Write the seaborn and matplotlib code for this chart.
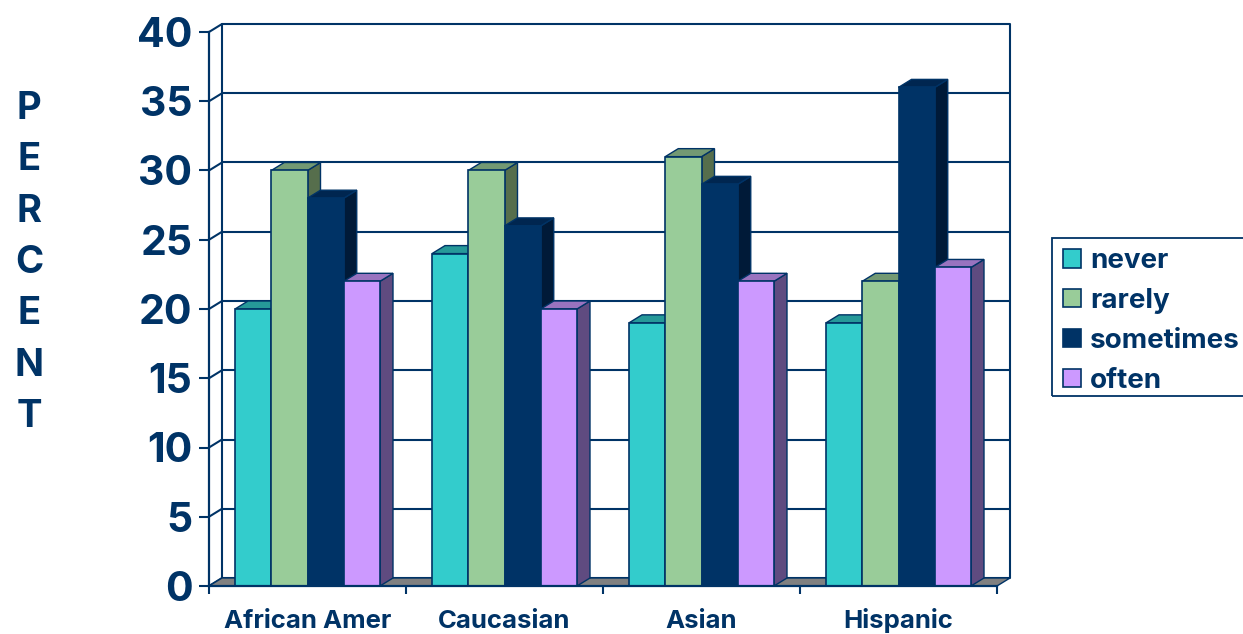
import matplotlib
matplotlib.use("Agg")
import matplotlib.pyplot as plt
from matplotlib.patches import Polygon, Rectangle
import pandas as pd
import seaborn as sns

# Survey responses by group, in percent
groups = ["African Amer", "Caucasian", "Asian", "Hispanic"]
never = [20, 24, 19, 19]
rarely = [30, 30, 31, 22]
sometimes = [28, 26, 29, 36]
often = [22, 20, 22, 23]
answers = ["never", "rarely", "sometimes", "often"]
y_ticks = list(range(0, 45, 5))

NAVY = "#003366"
front = ["#33CCCC", "#99CC99", "#003366", "#CC99FF"]
side = ["#1F7F7F", "#566E4C", "#001A38", "#5F4B80"]
top = ["#269999", "#739973", "#002650", "#9973BF"]

records = []
for name, values in zip(answers, [never, rarely, sometimes, often]):
    for group, value in zip(groups, values):
        records.append({"group": group, "answer": name, "percent": value})
table = pd.DataFrame(records)

sns.set_theme(style="white")
plt.rcParams["font.family"] = ["Inter", "Liberation Sans", "DejaVu Sans"]

W, H = 1243, 634
fig = plt.figure(figsize=(W / 100, H / 100), dpi=100)
ax = fig.add_axes([209 / W, 1 - 586 / H, (997 - 209) / W, (586 - 32) / H])

sns.barplot(data=table, x="group", y="percent", hue="answer", order=groups,
            hue_order=answers, palette=front, width=0.736, gap=0,
            edgecolor=NAVY, linewidth=1.2, saturation=1, ax=ax, legend=True, zorder=5)
ax.set_xlim(-0.5, 3.5)
ax.set_ylim(0, 40)

# The bars seaborn drew, tagged with their answer index before other patches are added
n_bars = len(groups) * len(answers)
bars = [p for p in ax.patches if isinstance(p, Rectangle)][:n_bars]
answer_index = [k for k in range(len(answers)) for _ in groups]

# Oblique depth of the pseudo-3D box, in data units
dx = 13 / 197
dy = 8 / 13.85
edge = dict(edgecolor=NAVY, linewidth=1.0, clip_on=False)

# Floor of the box
ax.add_patch(Polygon([(-0.5, 0), (3.5, 0), (3.5 + dx, dy), (-0.5 + dx, dy)],
                     facecolor="#808080", zorder=1.5, **edge))

# Back wall gridlines, left wall diagonals, right wall edge
for tick in y_ticks:
    ax.plot([-0.5 + dx, 3.5 + dx], [tick + dy, tick + dy], color=NAVY, lw=1.5,
            clip_on=False, zorder=1, solid_capstyle="butt")
    ax.plot([-0.5, -0.5 + dx], [tick, tick + dy], color=NAVY, lw=1.5,
            clip_on=False, zorder=1)
for x_wall in (-0.5 + dx, 3.5 + dx):
    ax.plot([x_wall, x_wall], [dy, 40 + dy], color=NAVY, lw=1.5, clip_on=False, zorder=1)

# Side and top faces of each bar, painted left to right
ordered = sorted(zip(bars, answer_index), key=lambda t: t[0].get_x())
for i, (bar, k) in enumerate(ordered):
    x0, x1 = bar.get_x(), bar.get_x() + bar.get_width()
    h = bar.get_height()
    z = 3 + i * 0.1
    bar.set_zorder(z + 0.05)
    ax.add_patch(Polygon([(x1, 0), (x1 + dx, dy), (x1 + dx, h + dy), (x1, h)],
                         facecolor=side[k], zorder=z, **edge))
    ax.add_patch(Polygon([(x0, h), (x1, h), (x1 + dx, h + dy), (x0 + dx, h + dy)],
                         facecolor=top[k], zorder=z, **edge))

# Axes, ticks and labels
sns.despine(ax=ax, top=True, right=True)
for s in ("left", "bottom"):
    ax.spines[s].set_color(NAVY)
    ax.spines[s].set_linewidth(1.6)
    ax.spines[s].set_zorder(8)
ax.set_xlabel("")
ax.set_ylabel("")
ax.set_yticks(y_ticks)
ax.set_xticks(range(len(groups)))
ax.set_xticklabels(groups, va="baseline")
ax.set_xticks([-0.5, 0.5, 1.5, 2.5, 3.5], minor=True)
ax.tick_params(axis="x", which="major", length=0, pad=30, labelsize=18.5, labelcolor=NAVY)
ax.tick_params(axis="x", which="minor", bottom=True, length=6, width=1.5, color=NAVY)
ax.tick_params(axis="y", left=True, length=7, width=1.5, color=NAVY, pad=5,
               labelsize=29.5, labelcolor=NAVY)
for label in ax.get_xticklabels() + ax.get_yticklabels():
    label.set_fontweight("bold")

fig.text(29 / W, 1 - 263 / H, "\n".join("PERCENT"), ha="center", va="center",
         fontsize=27.5, fontweight="bold", color=NAVY, linespacing=1.55)

# Legend entries, with the surrounding box running off the right edge
handles, labels = ax.get_legend_handles_labels()
leg = ax.legend(handles, labels, loc="upper left",
                bbox_to_anchor=(1063 / W, 1 - 248 / H), bbox_transform=fig.transFigure,
                frameon=False, prop={"weight": "bold", "size": 20}, labelcolor=NAVY,
                handlelength=0.65, handleheight=0.65, handletextpad=0.33,
                labelspacing=0.5, borderpad=0, borderaxespad=0)
leg.set_zorder(10)
fig.add_artist(Rectangle((1052 / W, 1 - 396 / H), 210 / W, 158 / H,
                         transform=fig.transFigure, facecolor="none",
                         edgecolor=NAVY, linewidth=1.3))

fig.savefig("out.png", dpi=100)
